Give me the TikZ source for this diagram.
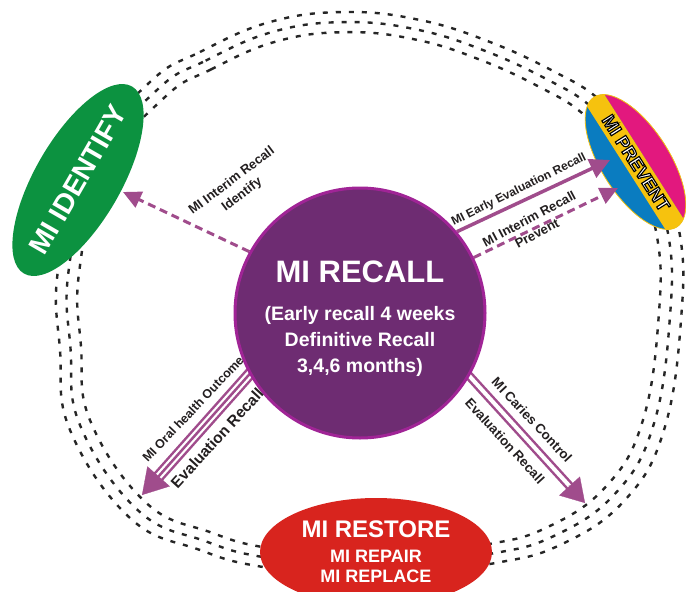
\documentclass[tikz,border=0pt]{standalone}
\usepackage{fontspec}
\setmainfont{Liberation Sans}
\usetikzlibrary{arrows.meta,shapes.geometric,calc}
\definecolor{recallfill}{RGB}{110,44,114}
\definecolor{recallrim}{RGB}{160,36,150}
\definecolor{arrowpurple}{RGB}{160,76,140}
\definecolor{idgreen}{RGB}{12,146,64}
\definecolor{restred}{RGB}{216,36,30}
\definecolor{prevblue}{RGB}{10,124,192}
\definecolor{prevmag}{RGB}{226,24,126}
\definecolor{prevyellow}{RGB}{246,194,14}
\definecolor{labelgray}{RGB}{35,31,32}
\newcommand\strokedtext[1]{{\color{white}\special{pdf:literal direct 0 G 2 Tr 1.1 w}#1\special{pdf:literal direct 0 Tr}}}
\pgfdeclarelayer{bg}
\pgfdeclarelayer{mid}
\pgfsetlayers{bg,mid,main}
\begin{document}
\begin{tikzpicture}[x=1pt,y=-1pt,
  ringline/.style={draw=black!85, line width=2.4pt, dash pattern=on 5pt off 8pt},
  lbl/.style={text=labelgray, align=center, inner sep=0pt},
  dasharrow/.style={draw=arrowpurple, line width=3pt, dash pattern=on 8pt off 5pt, -{Triangle[length=18pt,width=17pt]}},
  solidarrow/.style={draw=arrowpurple, line width=3.5pt, -{Triangle[length=20pt,width=20pt]}},
  headarrow/.style={draw=arrowpurple, fill=arrowpurple, line width=0.3pt},
  recallnode/.style={circle, minimum size=250pt, inner sep=0pt, fill=recallfill, draw=recallrim, line width=3pt},
  whitetext/.style={text=white, inner sep=0pt, align=center}
]
\useasboundingbox (0,0) rectangle (686,592);

% ---- central circle
\node[recallnode] (recall) at (360,313) {};
\node[whitetext, anchor=base, font=\bfseries\fontsize{31}{31}\selectfont] (recalltitle) at (360,282) {MI RECALL};
\node[whitetext, font=\bfseries\fontsize{19.5}{26}\selectfont] (recallsub) at (360,341) {(Early recall 4 weeks\\Definitive Recall\\3,4,6 months)};

\begin{pgfonlayer}{bg}
  \fill[white] (0,0) rectangle (686,592);
  \foreach \s in {1,0.965,0.93}{
    \draw[ringline, scale around={\s:(360,300)}] plot[smooth cycle, tension=0.7] coordinates {
      (150,82) (200,52) (270,22) (345,12) (420,20) (490,42) (555,72) (600,100) (650,150)
      (679,230) (681,320) (664,430) (625,500) (560,545) (490,564) (376,580) (263,567)
      (200,550) (130,518) (70,430) (60,350) (58,270) (85,160)};
  }
  % MI IDENTIFY
  \node[ellipse, fill=idgreen, minimum width=216pt, minimum height=86pt, inner sep=0pt, rotate=60] (identify) at (78,180) {};
  % MI PREVENT
  \begin{scope}[shift={(635.5,162)}, rotate=-57.5]
    \clip (0,0) ellipse [x radius=77, y radius=34];
    \fill[prevblue] (-80,-40) rectangle (80,40);
    \fill[prevmag] (-80,-40) rectangle (80,-10);
    \fill[prevyellow] (-80,-10) rectangle (80,11);
  \end{scope}
  \node[ellipse, draw=prevyellow, line width=0.8pt, minimum width=154pt, minimum height=68pt, inner sep=0pt, rotate=-57.5] (prevent) at (635.5,162) {};
  % MI RESTORE
  \node[ellipse, fill=restred, minimum width=232pt, minimum height=108pt, inner sep=0pt, whitetext, font=\bfseries\fontsize{18}{20}\selectfont] (restore) at (376,552)
    {{\fontsize{24}{24}\selectfont MI RESTORE}\\[5pt]MI REPAIR\\MI REPLACE};
\end{pgfonlayer}

% texts of the side ellipses
\node[whitetext, rotate=60, font=\bfseries\fontsize{28}{28}\selectfont] (identifytext) at (identify.center) {MI IDENTIFY};
\node[whitetext, rotate=-57.5, font=\bfseries\fontsize{18}{18}\selectfont] (preventtext) at (636,163) {\strokedtext{MI PREVENT}};

% ---- connectors
\coordinate (idtip) at (123,192);
\coordinate (prevtipA) at (610,160);
\coordinate (prevtipB) at (618,188);
\coordinate (ortip) at (142,495);
\coordinate (cctip) at (585,503);
\begin{pgfonlayer}{mid}
  \draw[dasharrow] (recall.151) -- (idtip);
  \draw[solidarrow] (recall.40) -- (prevtipA);
  \draw[dasharrow] (recall.26) -- (prevtipB);
  % triple line arrow
  \coordinate (orstart) at ($(recall.209)!-40pt!(ortip)$);
  \draw[draw=arrowpurple, line width=12pt, shorten >=23pt] (orstart) -- (ortip);
  \draw[draw=white, line width=7pt, shorten >=23pt] (orstart) -- (ortip);
  \draw[draw=arrowpurple, line width=2.5pt, shorten >=23pt] (orstart) -- (ortip);
  \draw[headarrow, -{Triangle[length=25pt,width=30pt]}] ($(ortip)!26pt!(recall.209)$) -- (ortip);
  % double line arrow
  \coordinate (ccstart) at ($(recall.330)!-40pt!(cctip)$);
  \draw[draw=arrowpurple, line width=9pt, shorten >=21pt] (ccstart) -- (cctip);
  \draw[draw=white, line width=4pt, shorten >=21pt] (ccstart) -- (cctip);
  \draw[headarrow, -{Triangle[length=23pt,width=28pt]}] ($(cctip)!24pt!(recall.330)$) -- (cctip);
\end{pgfonlayer}

% ---- connector labels
\node[lbl, rotate=37, font=\bfseries\fontsize{13}{17}\selectfont] (lblA) at (237,188) {MI Interim Recall\\Identify};
\node[lbl, rotate=26.5, font=\bfseries\fontsize{12}{14}\selectfont] (lblB) at (519,190) {MI Early Evaluation Recall};
\node[lbl, rotate=28, font=\bfseries\fontsize{13}{16.5}\selectfont] (lblC) at (533,226) {MI Interim Recall\\Prevent};
\node[lbl, rotate=46.5, font=\bfseries\fontsize{12.5}{14}\selectfont] (lblD1) at (193,409) {MI Oral health Outcome};
\node[lbl, rotate=47.5, font=\bfseries\fontsize{15.5}{17}\selectfont] (lblD2) at (217,438) {Evaluation Recall};
\node[lbl, rotate=-47, font=\bfseries\fontsize{13.3}{15}\selectfont] (lblE1) at (532,420) {MI Caries Control};
\node[lbl, rotate=-47.5, font=\bfseries\fontsize{13.3}{15}\selectfont] (lblE2) at (505,441) {Evaluation Recall};
\end{tikzpicture}
\end{document}
